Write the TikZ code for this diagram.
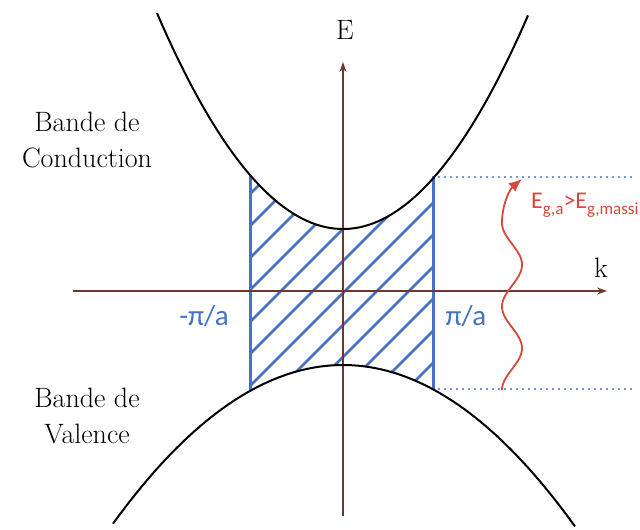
\documentclass[tikz,border=0pt]{standalone}
\usepackage{fontspec}
\newfontfamily\sansf{Carlito}
\usetikzlibrary{arrows.meta}
\definecolor{bluec}{RGB}{68,114,196}
\definecolor{redc}{RGB}{214,72,56}
\definecolor{axisc}{RGB}{110,55,45}
\newcommand{\lowsub}[1]{\raisebox{-6pt}{\fontsize{17}{17}\selectfont #1}}
\begin{document}
\begin{tikzpicture}[x=1pt,y=-1pt,
  band/.style={black,line width=2pt},
  axisline/.style={axisc,line width=1.3pt,-{Stealth[length=10pt,width=7pt]}},
  edge/.style={bluec,line width=3pt},
  hatchline/.style={bluec,line width=2.5pt},
  dotline/.style={bluec,line width=2.2pt,dash pattern=on 0pt off 6pt,line cap=round},
  bandtxt/.style={font=\fontsize{28}{36}\selectfont,align=center,text=black},
  axtxt/.style={font=\fontsize{28}{28}\selectfont,text=black},
  pitxt/.style={font=\sansf\fontsize{29}{29}\selectfont,text=bluec},
  gaptxt/.style={font=\sansf\fontsize{24}{24}\selectfont,text=redc,anchor=base west,inner sep=0pt},
  wave/.style={redc,line width=1.8pt,-{Latex[length=13pt,width=11pt]}}]
\useasboundingbox (0,0) rectangle (640,530);
% hatched region
\begin{scope}
\clip plot[domain=250:433,samples=40] (\x,{229-(0.079*(\x-343))^2})
  -- plot[domain=433:250,samples=40] (\x,{365+(0.05477*(\x-343))^2}) -- cycle;
\foreach \k in {-8,...,7}
  \draw[hatchline] ({636+32*\k-420},420) -- ++(280,-280);
\end{scope}
% dotted lines
\coordinate (tr) at (433,{229-(0.079*(433-343))^2});
\coordinate (br) at (433,{365+(0.05477*(433-343))^2});
\coordinate (tl) at (250,{229-(0.079*(250-343))^2});
\coordinate (bl) at (250,{365+(0.05477*(250-343))^2});
\coordinate (te) at (636,177);
\coordinate (be) at (636,389);
\draw[dotline] (433,177) -- (te);
\draw[dotline] (433,389) -- (be);
% blue edges
\draw[edge] (tl) -- (bl);
\draw[edge] (tr) -- (br);
% axes
\coordinate (kx0) at (73,291);
\coordinate (kx1) at (607,291);
\coordinate (ey0) at (343,516);
\coordinate (ey1) at (343,62);
\draw[axisline] (kx0) -- (kx1);
\draw[axisline] (ey0) -- (ey1);
% bands
\draw[band] plot[domain=157:528,samples=80] (\x,{229-(0.079*(\x-343))^2});
\draw[band] plot[domain=113:575,samples=80] (\x,{365+(0.05477*(\x-343))^2});
% wavy arrow
\coordinate (wtip) at (522,179);
\draw[wave] plot[domain=390:223,samples=90,smooth] ({512-10*cos(4.311*(\x-223))},\x)
  .. controls (502,204) and (510,189) .. (wtip);
% labels
\node[axtxt] (E) at (345,30) {E};
\node[axtxt] (k) at (601,268) {k};
\node[bandtxt] (cb) at (87,140) {Bande de\\Conduction};
\node[bandtxt] (vb) at (87,416) {Bande de\\Valence};
\node[pitxt] (ml) at (204,316) {-π/a};
\node[pitxt] (pl) at (466,316) {π/a};
\node[gaptxt] (eg) at (531,208) {E\lowsub{g,a}>E\lowsub{g,massi}};
\end{tikzpicture}
\end{document}
